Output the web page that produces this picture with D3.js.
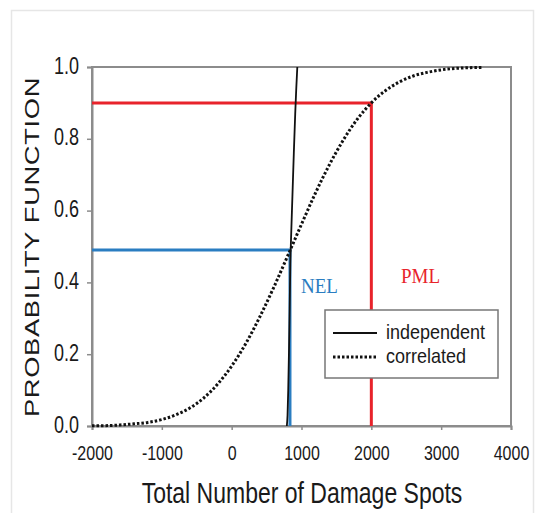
<!DOCTYPE html>
<html>
<head>
<meta charset="utf-8">
<script src="https://cdn.jsdelivr.net/npm/d3@7"></script>
<style>
  html, body { margin: 0; padding: 0; background: #fff; }
  svg { display: block; }
</style>
</head>
<body>
<svg id="chart" width="536" height="513"></svg>
<script>
// Damage-spot totals and cumulative probabilities
const xTicks = [-2000, -1000, 0, 1000, 2000, 3000, 4000];
const yTicks = [0.0, 0.2, 0.4, 0.6, 0.8, 1.0];

const independentX = [790, 800, 810, 820, 830, 840, 850, 870, 890, 910, 925, 940];
const independentP = [0.0, 0.03, 0.10, 0.20, 0.32, 0.45, 0.52, 0.64, 0.76, 0.87, 0.94, 1.0];

const correlatedX = [-2000, -1800, -1600, -1400, -1200, -1000, -800, -600, -400, -200, 0,
  200, 400, 600, 800, 1000, 1200, 1400, 1600, 1800, 2000, 2200, 2400, 2600, 2800, 3000,
  3200, 3400, 3600];
const correlatedP = [0.001, 0.001, 0.003, 0.006, 0.010, 0.018, 0.031, 0.050, 0.078, 0.117, 0.167,
  0.229, 0.303, 0.385, 0.473, 0.562, 0.649, 0.728, 0.797, 0.855, 0.900, 0.934, 0.958, 0.975, 0.985, 0.992,
  0.996, 0.998, 0.999];

// Expected loss and probable maximum loss markers
const nel = { x: 835, p: 0.49, label: "NEL" };
const pml = { x: 2000, p: 0.90, label: "PML" };

const legendLabels = ["independent", "correlated"];

const svg = d3.select("#chart");
const plotLeft = 92, plotRight = 511, plotTop = 67, plotBottom = 426;
const sy = 1.3; // vertical text stretch
const sans = "Arial, 'Liberation Sans', sans-serif";
const serif = "'Liberation Serif', 'Times New Roman', serif";

const x = d3.scaleLinear().domain([-2000, 4000]).range([plotLeft, plotRight]);
const y = d3.scaleLinear().domain([0, 1]).range([plotBottom, plotTop]);

// outer frame
svg.append("rect").attr("x", 11.5).attr("y", 10.5).attr("width", 522).attr("height", 510)
  .attr("fill", "none").attr("stroke", "#e6e6e6").attr("stroke-width", 1.5);

// plot frame
svg.append("rect").attr("x", plotLeft).attr("y", plotTop)
  .attr("width", plotRight - plotLeft).attr("height", plotBottom - plotTop)
  .attr("fill", "none").attr("stroke", "#8c8c8c").attr("stroke-width", 2);

// axes
const xAxis = svg.append("g").attr("transform", `translate(0,${plotBottom})`)
  .call(d3.axisBottom(x).tickValues(xTicks).tickSize(4).tickFormat(d => d < 0 ? "-" + Math.abs(d) : String(d)));
const yAxis = svg.append("g").attr("transform", `translate(${plotLeft},0)`)
  .call(d3.axisLeft(y).tickValues(yTicks).tickSize(5).tickFormat(d3.format(".1f")));
[xAxis, yAxis].forEach(g => {
  g.select(".domain").attr("stroke", "#8c8c8c").attr("stroke-width", 2);
  g.selectAll(".tick line").attr("stroke", "#8c8c8c").attr("stroke-width", 1.5);
  g.selectAll("text").attr("fill", "#1a1a1a").style("font-family", sans);
});
xAxis.selectAll(".tick text").attr("y", 0).attr("dy", 0)
  .style("font-size", "16px")
  .attr("transform", `translate(0,34) scale(1,${sy})`);
yAxis.selectAll(".tick text").attr("x", 0).attr("dy", 0)
  .style("font-size", "18px")
  .attr("transform", `translate(-13,6) scale(1,${sy})`);

// axis titles
svg.append("text")
  .attr("transform", `translate(302,503) scale(1,${sy})`)
  .attr("text-anchor", "middle")
  .style("font-family", sans)
  .style("font-size", "23px").attr("fill", "#1a1a1a")
  .text("Total Number of Damage Spots");
svg.append("text")
  .attr("transform", `translate(39,247) scale(1,${sy}) rotate(-90)`)
  .attr("text-anchor", "middle")
  .style("font-family", sans)
  .style("font-size", "21px").attr("fill", "#1a1a1a")
  .style("letter-spacing", "0.5px")
  .text("PROBABILITY FUNCTION");

// NEL / PML guide lines
const red = "#e8232b", blue = "#2a7dc1";
svg.append("path")
  .attr("d", `M${x(-2000)},${y(pml.p)}H${x(pml.x)}V${y(0)}`)
  .attr("fill", "none").attr("stroke", red).attr("stroke-width", 3);
svg.append("path")
  .attr("d", `M${x(-2000)},${y(nel.p)}H${x(nel.x)}V${y(0)}`)
  .attr("fill", "none").attr("stroke", blue).attr("stroke-width", 3);

// curves
const line = d3.line().x(d => x(d[0])).y(d => y(d[1])).curve(d3.curveMonotoneX);
svg.append("path")
  .datum(correlatedX.map((v, i) => [v, correlatedP[i]]))
  .attr("d", line).attr("fill", "none").attr("stroke", "#111")
  .attr("stroke-width", 3).attr("stroke-dasharray", "2.5,2");
svg.append("path")
  .datum(independentX.map((v, i) => [v, independentP[i]]))
  .attr("d", line).attr("fill", "none").attr("stroke", "#111").attr("stroke-width", 1.8);

// marker labels
svg.append("text").attr("transform", `translate(301,293) scale(1,1.05)`)
  .style("font-family", serif)
  .style("font-size", "19px").attr("fill", blue).text(nel.label);
svg.append("text").attr("transform", `translate(401,283) scale(1,1.05)`)
  .style("font-family", serif)
  .style("font-size", "19px").attr("fill", red).text(pml.label);

// legend
const lg = svg.append("g");
lg.append("rect").attr("x", 325).attr("y", 310).attr("width", 173).attr("height", 68)
  .attr("fill", "#fff").attr("stroke", "#777").attr("stroke-width", 1.5);
legendLabels.forEach((lab, i) => {
  const ly = 333 + i * 24;
  lg.append("line").attr("x1", 333).attr("x2", 377).attr("y1", ly).attr("y2", ly)
    .attr("stroke", "#111")
    .attr("stroke-width", i === 0 ? 2 : 3)
    .attr("stroke-dasharray", i === 0 ? null : "2.5,2");
  lg.append("text").attr("transform", `translate(386,${ly + 6}) scale(1,1.15)`)
    .style("font-family", sans)
    .style("font-size", "18px").attr("fill", "#1a1a1a").text(lab);
});
</script>
</body>
</html>
